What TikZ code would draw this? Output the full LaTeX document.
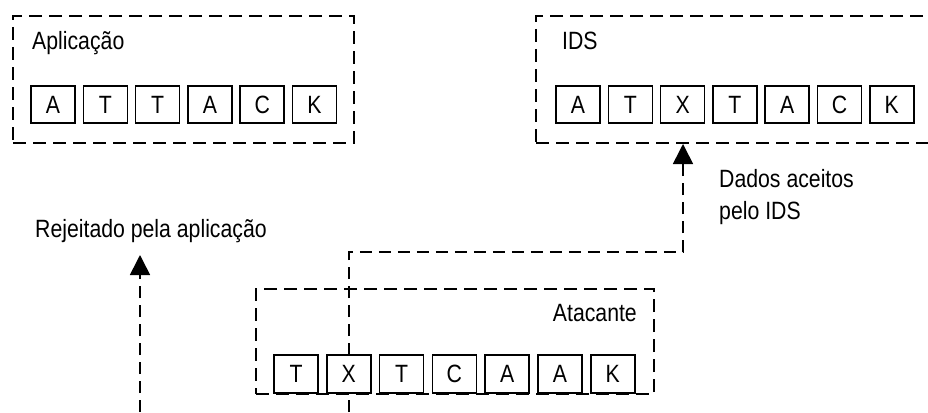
\documentclass[tikz,border=0pt]{standalone}
\usepackage{fontspec}
\setmainfont[FakeStretch=0.85]{Liberation Sans}
\usetikzlibrary{arrows.meta}
\pgfdeclarelayer{background}
\pgfsetlayers{background,main}

\tikzset{
  group/.style={draw, line width=2pt, dash pattern=on 13pt off 7pt, inner sep=0pt, anchor=north west},
  cell/.style={draw, line width=1.5pt, fill=white, minimum width=44pt, minimum height=37pt,
    inner sep=0pt, font=\fontsize{25}{30}\selectfont},
  label/.style={inner sep=0pt, font=\fontsize{25}{30}\selectfont, anchor=base west},
  conn/.style={line width=1.6pt, dash pattern=on 12pt off 7pt, -{Triangle[length=20pt,width=20pt]}},
}

\begin{document}
\begin{tikzpicture}[x=1pt, y=-1pt]
  \clip (0,0) rectangle (928,412);

  % application buffer
  \node[group, minimum width=341pt, minimum height=127pt] (app) at (12,15) {};
  \node[label] (apptitle) at (32,50) {Aplicação};
  \foreach \ch [count=\i from 0] in {A,T,T,A,C,K}
    \node[cell] (a\i) at ({53+\i*52.3},104.5) {\ch};

  % IDS buffer
  \node[group, minimum width=400pt, minimum height=127pt] (ids) at (535,15) {};
  \node[label] (idstitle) at (562,50) {IDS};
  \foreach \ch [count=\i from 0] in {A,T,X,T,A,C,K}
    \node[cell] (d\i) at ({578+\i*52.3},104.5) {\ch};

  % attacker stream
  \node[group, minimum width=398pt, minimum height=105pt] (att) at (255,288) {};
  \node[label, anchor=base east] (atttitle) at (637,321) {Atacante};
  \foreach \ch [count=\i from 0] in {T,X,T,C,A,A,K}
    \node[cell, minimum height=38pt] (t\i) at ({296+\i*52.8},374) {\ch};

  % annotations
  \node[label] (rej) at (35,237) {Rejeitado pela aplicação};
  \node[label] (dados1) at (719,187) {Dados aceitos};
  \node[label] (dados2) at (719,219) {pelo IDS};

  % connectors
  \coordinate (rejsrc) at (140,412);
  \coordinate (rejtip) at (140,255);
  \coordinate (xsrc) at (t1 |- rejsrc);
  \coordinate (idsin) at ([xshift=148pt]ids.south west);
  \coordinate (turn) at (idsin |- 0,252);
  \begin{pgfonlayer}{background}
    \draw[conn] (rejsrc) -- (rejtip);
    \draw[conn] (xsrc) |- (turn) -- (idsin);
  \end{pgfonlayer}
\end{tikzpicture}
\end{document}
